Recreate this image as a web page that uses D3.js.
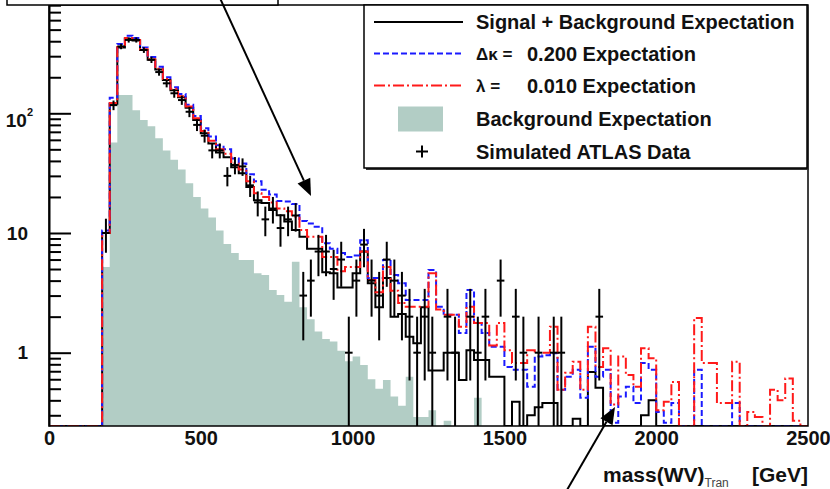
<!DOCTYPE html>
<html>
<head>
<meta charset="utf-8">
<script src="https://cdn.jsdelivr.net/npm/d3@7"></script>
<style>
  body { margin: 0; background: #fff; }
  svg text { font-family: "Liberation Sans", Arial, Helvetica, sans-serif; font-weight: bold; fill: #111; }
</style>
</head>
<body>
<svg id="chart" width="830" height="489"></svg>
<script>
// Transverse WV mass spectrum, 25 GeV bins from 0 to 2500 GeV (index = bin number)
const binWidth = 25;
const binLow = d3.range(0, 2500, binWidth);

// Signal + background expectation (solid black)
const signalBg = [
  0, 0, 0, 0, 0, 0, 0, 10, 120, 355,
  420, 405, 338, 280, 232, 190, 156, 136, 111, 88,
  68, 56, 47, 43, 35.5, 31.6, 24.2, 18.8, 17.8, 15.6,
  14.1, 12.5, 10.6, 9.3, 7.4, 7.4, 4.7, 4.6, 3.5, 3.5,
  4.6, 7.0, 3.8, 2.4, 4.2, 2.0, 2.1, 1.36, 1.2, 2.4,
  0.71, 0.71, 1.0, 1.0, 0.59, 1.05, 0.87, 0.87, 0.63, 0.63,
  0, 0.39, 0, 0.30, 0.35, 0.38, 0.38, 0, 0, 0.28,
  0, 0.69, 0.51, 0, 0, 0, 0, 0, 0.30, 0.40,
  0, 0, 0, 0, 0, 0, 0, 0, 0, 0,
  0, 0, 0, 0, 0, 0, 0, 0, 0, 0
];

// Anomalous coupling expectation, Δκ = 0.200 (blue dashed)
const kappaExp = [
  0, 0, 0, 0, 0, 0, 0, 10.5, 135, 380,
  445, 425, 355, 295, 245, 200, 165, 145, 118, 95,
  75, 64, 54, 50, 42, 38, 31, 27, 23, 21,
  18.5, 18.3, 17.5, 12.6, 12, 11.3, 8.2, 7.4, 6.8, 6.3,
  6.5, 8.7, 4.2, 4.2, 5.95, 4.45, 3.8, 2.75, 2.75, 2.75,
  4.9, 2.42, 2.07, 2.07, 1.46, 3.34, 1.77, 1.46, 1.12, 1.12,
  0.76, 0.72, 0.72, 0.52, 0.93, 0.95, 0.99, 0.49, 0.63, 0.72,
  0.42, 1.12, 0.63, 0.72, 0.26, 0.43, 0.52, 0.38, 0.82, 0.72,
  0.32, 0.26, 0.38, 0, 0, 0.72, 0, 0, 0, 0,
  0.38, 0, 0, 0, 0, 0, 0, 0, 0, 0
];

// Anomalous coupling expectation, λ = 0.010 (red dash-dot)
const lambdaExp = [
  0, 0, 0, 0, 0, 0, 0, 10, 122, 358,
  425, 410, 342, 283, 236, 193, 160, 139, 114, 91,
  71, 59, 50, 46, 38, 34, 27, 21.5, 20, 18,
  16, 15.2, 13.7, 10.6, 9.3, 9.3, 6.3, 6.3, 4.8, 5.2,
  5.2, 7.0, 4.05, 3.2, 5.2, 3.3, 2.6, 2.42, 2.42, 2.42,
  4.6, 2.3, 2.07, 2.07, 1.65, 2.42, 1.77, 1.77, 1.15, 1.77,
  1.05, 0.82, 0.82, 1.05, 1.0, 1.0, 1.65, 0.49, 0.68, 0.84,
  0.49, 1.65, 0.76, 1.09, 0.37, 0.93, 0.65, 0.52, 1.09, 0.9,
  0.33, 0.39, 0.57, 0, 0, 1.95, 0.82, 0.82, 0.38, 0.38,
  0.84, 0, 0.32, 0.29, 0, 0.49, 0.40, 0.61, 0.27, 0
];

// Background-only expectation (filled)
const background = [
  0, 0, 0, 0, 0, 0, 0, 5.2, 57, 142,
  142, 106, 88, 78, 62, 49, 41, 34, 26, 20,
  16, 13.5, 10.5, 8.1, 6.8, 5.95, 5.95, 4.6, 4.45, 3.34,
  3.04, 2.67, 5.75, 2.4, 1.9, 1.5, 1.3, 1.24, 1.04, 0.85,
  0.93, 0.79, 0.6, 0.5, 0.59, 0.43, 0.36, 0.63, 0.29, 0.29,
  0.33, 0, 0.27, 0, 0, 0, 0.42, 0, 0, 0,
  0, 0, 0, 0, 0, 0, 0, 0, 0, 0,
  0, 0, 0, 0, 0, 0, 0, 0, 0, 0,
  0, 0, 0, 0, 0, 0, 0, 0, 0, 0,
  0, 0, 0, 0, 0, 0, 0, 0, 0, 0
];

// Simulated ATLAS data, event counts per bin
const atlasData = [
  0, 0, 0, 0, 0, 0, 0, 10, 117, 362,
  410, 410, 338, 280, 221, 178, 147, 129, 103, 80,
  65, 49, 49, 30, 37, 36, 25, 18, 13, 16,
  11, 13, 14, 3, 4, 7, 7, 5, 6, 1,
  4, 8, 4, 3, 6, 4, 3, 2, 1, 2,
  1, 0, 2, 1, 0, 2, 1, 2, 0, 4,
  0, 2, 1, 0, 1, 0, 1, 1, 0, 0,
  0, 0, 2, 0, 0, 0, 0, 0, 0, 0,
  0, 0, 0, 0, 0, 0, 0, 0, 0, 0,
  0, 0, 0, 0, 0, 0, 0, 0, 0, 0
];

const xTicks = [0, 500, 1000, 1500, 2000, 2500];
const yMajor = [1, 10, 100];
const yMinor = [0.3, 0.4, 0.5, 0.6, 0.7, 0.8, 0.9,
                2, 3, 4, 5, 6, 7, 8, 9,
                20, 30, 40, 50, 60, 70, 80, 90,
                200, 300, 400, 500, 600, 700, 800];

const legendItems = [
  { key: "sb",   label: "Signal + Background Expectation" },
  { key: "kap",  sym: "Δκ =", label: "0.200 Expectation" },
  { key: "lam",  sym: "λ =",  label: "0.010 Expectation" },
  { key: "bkg",  label: "Background Expectation" },
  { key: "data", label: "Simulated ATLAS Data" }
];

const colors = { sb: "#000", kap: "#1a1aff", lam: "#ff1a1a", bkg: "#b2cdc5" };
const dashes = { kap: "6,3", lam: "11,3,2,3" };

// ---- layout ----
const plot = { left: 49, right: 808, top: 5, bottom: 426 };
const yDomain = [0.2441, 803];

const svg = d3.select("#chart");
const x = d3.scaleLinear().domain([0, 2500]).range([plot.left, plot.right]);
const y = d3.scaleLog().domain(yDomain).range([plot.bottom, plot.top]).clamp(true);
const yv = v => y(Math.max(v, yDomain[0]));

svg.append("defs").append("clipPath").attr("id", "plotClip")
  .append("rect").attr("x", plot.left).attr("y", plot.top)
  .attr("width", plot.right - plot.left).attr("height", plot.bottom - plot.top);

const g = svg.append("g").attr("clip-path", "url(#plotClip)");

// step points: each bin's lower edge, plus the closing upper edge
const stepPts = vals => binLow.map((b, i) => [b, vals[i]]).concat([[2500, vals[vals.length - 1]]]);

const area = d3.area().curve(d3.curveStepAfter)
  .x(d => x(d[0])).y0(plot.bottom).y1(d => yv(d[1]));
const line = d3.line().curve(d3.curveStepAfter)
  .x(d => x(d[0])).y(d => yv(d[1]));

g.append("path").attr("d", area(stepPts(background))).attr("fill", colors.bkg);

g.append("path").attr("d", line(stepPts(signalBg)))
  .attr("fill", "none").attr("stroke", colors.sb).attr("stroke-width", 2);
g.append("path").attr("d", line(stepPts(kappaExp)))
  .attr("fill", "none").attr("stroke", colors.kap).attr("stroke-width", 2)
  .attr("stroke-dasharray", dashes.kap);
g.append("path").attr("d", line(stepPts(lambdaExp)))
  .attr("fill", "none").attr("stroke", colors.lam).attr("stroke-width", 2)
  .attr("stroke-dasharray", dashes.lam);

// data points with Poisson error bars
const pts = binLow.map((b, i) => ({ lo: b, n: atlasData[i] })).filter(d => d.n > 0);
const dg = g.append("g").attr("stroke", "#000").attr("stroke-width", 2);
dg.selectAll("line.h").data(pts).join("line").attr("class", "h")
  .attr("x1", d => x(d.lo)).attr("x2", d => x(d.lo + binWidth))
  .attr("y1", d => yv(d.n)).attr("y2", d => yv(d.n));
dg.selectAll("line.v").data(pts).join("line").attr("class", "v")
  .attr("x1", d => x(d.lo + binWidth / 2)).attr("x2", d => x(d.lo + binWidth / 2))
  .attr("y1", d => yv(d.n + Math.sqrt(d.n))).attr("y2", d => yv(d.n - Math.sqrt(d.n)));

// ---- frame ----
svg.append("rect").attr("x", plot.left).attr("y", plot.top)
  .attr("width", plot.right - plot.left).attr("height", plot.bottom - plot.top)
  .attr("fill", "none").attr("stroke", "#000").attr("stroke-width", 1.5);

// ---- y axis (ticks point into the frame) ----
const yAxis = d3.axisLeft(y).tickValues(yMajor).tickSizeInner(-22).tickSizeOuter(0)
  .tickPadding(21).tickFormat(d => d === 100 ? "" : d3.format("d")(d));
const yg = svg.append("g").attr("transform", `translate(${plot.left},0)`).call(yAxis);
yg.select(".domain").attr("stroke-width", 2);
yg.selectAll(".tick line").attr("stroke-width", 2);
yg.selectAll(".tick text").attr("font-size", 19).attr("font-family", null);
yg.selectAll(".tick").filter(d => d === 100).select("text")
  .attr("dy", "0.68em").attr("x", -16)
  .call(t => {
    t.append("tspan").text("10");
    t.append("tspan").text("2").attr("font-size", 11).attr("dy", -11);
  });

const yMinorAxis = d3.axisLeft(y).tickValues(yMinor).tickSizeInner(-12).tickSizeOuter(0).tickFormat("");
const ym = svg.append("g").attr("transform", `translate(${plot.left},0)`).call(yMinorAxis);
ym.select(".domain").remove();
ym.selectAll(".tick line").attr("stroke-width", 2);

// ---- x axis labels ----
const xAxis = d3.axisBottom(x).tickValues(xTicks).tickSize(0).tickPadding(5).tickFormat(d3.format("d"));
const xg = svg.append("g").attr("transform", `translate(0,${plot.bottom})`).call(xAxis);
xg.select(".domain").remove();
xg.selectAll(".tick text").attr("font-size", 20).attr("font-family", null);

const xt = svg.append("text").attr("x", 603).attr("y", 482).attr("font-size", 21);
xt.append("tspan").text("mass(WV)");
xt.append("tspan").text("Tran").attr("font-size", 12).attr("font-weight", "normal")
  .attr("fill", "#444").attr("dy", 5);
svg.append("text").attr("x", 808).attr("y", 482).attr("text-anchor", "end")
  .attr("font-size", 21).text("[GeV]");

// ---- legend ----
const leg = { x: 364, y: 5, w: 443, h: 163, rowY: [22, 53.5, 85.5, 118.5, 151.5] };
svg.append("rect").attr("x", leg.x + 2).attr("y", leg.y + 2).attr("width", leg.w).attr("height", leg.h)
  .attr("fill", "#333");
svg.append("rect").attr("x", leg.x).attr("y", leg.y).attr("width", leg.w).attr("height", leg.h)
  .attr("fill", "#fff").attr("stroke", "#000").attr("stroke-width", 1.5);

const lg = svg.append("g");
legendItems.forEach((it, i) => {
  const cy = leg.rowY[i];
  if (it.key === "sb" || it.key === "kap" || it.key === "lam") {
    lg.append("line").attr("x1", 374).attr("x2", 463).attr("y1", cy).attr("y2", cy)
      .attr("stroke", colors[it.key]).attr("stroke-width", 2)
      .attr("stroke-dasharray", dashes[it.key] || null);
  } else if (it.key === "bkg") {
    lg.append("rect").attr("x", 398).attr("y", cy - 12).attr("width", 45).attr("height", 25)
      .attr("fill", colors.bkg);
  } else {
    lg.append("line").attr("x1", 416).attr("x2", 428).attr("y1", cy).attr("y2", cy)
      .attr("stroke", "#000").attr("stroke-width", 2);
    lg.append("line").attr("x1", 422).attr("x2", 422).attr("y1", cy - 6).attr("y2", cy + 6)
      .attr("stroke", "#000").attr("stroke-width", 2);
  }
  if (it.sym) {
    lg.append("text").attr("x", 476).attr("y", cy).attr("dy", "0.36em")
      .attr("font-size", 17).text(it.sym);
    lg.append("text").attr("x", 527).attr("y", cy).attr("dy", "0.36em")
      .attr("font-size", 20).text(it.label);
  } else {
    lg.append("text").attr("x", 476).attr("y", cy).attr("dy", "0.36em")
      .attr("font-size", 20).text(it.label);
  }
});

// ---- annotation box and arrows ----
svg.append("rect").attr("x", 7).attr("y", -10).attr("width", 271).attr("height", 15)
  .attr("fill", "#fff").attr("stroke", "#000").attr("stroke-width", 1.5);

function arrow(x0, y0, x1, y1) {
  const a = Math.atan2(y1 - y0, x1 - x0), L = 17, W = 7;
  const bx = x1 - L * Math.cos(a), by = y1 - L * Math.sin(a);
  svg.append("line").attr("x1", x0).attr("y1", y0).attr("x2", bx).attr("y2", by)
    .attr("stroke", "#000").attr("stroke-width", 2);
  svg.append("path")
    .attr("d", `M${x1},${y1}L${bx + W * Math.sin(a)},${by - W * Math.cos(a)}L${bx - W * Math.sin(a)},${by + W * Math.cos(a)}Z`)
    .attr("fill", "#000");
}
arrow(219, -4, 311, 196);
arrow(567, 490, 615, 407);
</script>
</body>
</html>
